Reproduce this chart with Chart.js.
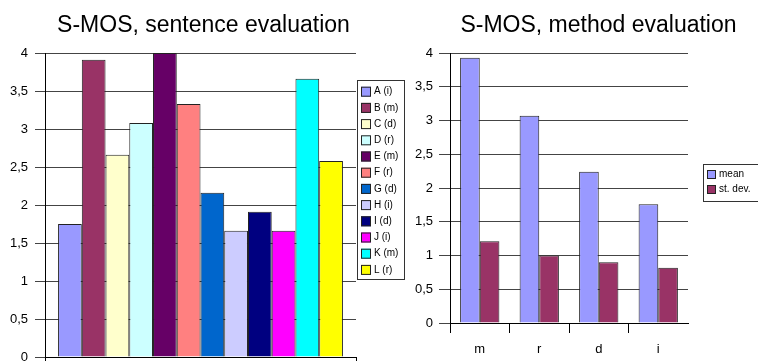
<!DOCTYPE html>
<html>
<head>
<meta charset="utf-8">
<script src="https://cdn.jsdelivr.net/npm/chart.js@4"></script>
<style>
body{margin:0;background:#fff;width:758px;height:361px;overflow:hidden;position:relative;}
canvas{position:absolute;top:0;}
#chart_1{left:0;}
#chart_2{left:410px;}
</style>
</head>
<body>
<canvas id="chart_1" width="410" height="361"></canvas>
<canvas id="chart_2" width="348" height="361"></canvas>
<script>
// sentence evaluation
let sentLabels = ['A (i)','B (m)','C (d)','D (r)','E (m)','F (r)','G (d)','H (i)','I (d)','J (i)','K (m)','L (r)'];
let sentValues = [1.75,3.91,2.66,3.08,4.0,3.33,2.16,1.66,1.91,1.66,3.66,2.58];
let sentColors = ['#9999ff','#993366','#ffffcc','#ccffff','#660066','#ff8080','#0066cc','#ccccff','#000080','#ff00ff','#00ffff','#ffff00'];

// method evaluation
let methods = ['m','r','d','i'];
let meanValues = [3.93,3.07,2.24,1.76];
let devValues = [1.21,1.0,0.9,0.82];

let yTicks = [0,0.5,1,1.5,2,2.5,3,3.5,4];

Chart.defaults.font.family = '"Liberation Sans", Arial, sans-serif';
Chart.defaults.color = '#000';

function commaTick(v){
    return String(v).replace('.',',');
}

// title + boxed legend, drawn by hand like the old excel charts
let boxPlugin = {
    id:'box',
    afterDraw(chart, args, opt){
        let ctx = chart.ctx;
        ctx.save();
        ctx.fillStyle = '#000';
        ctx.font = '23px "Liberation Sans", Arial, sans-serif';
        ctx.textAlign = 'center';
        ctx.textBaseline = 'alphabetic';
        ctx.fillText(opt.title, opt.titleX, 32);

        let b = opt.legend;
        ctx.strokeStyle = '#333';
        ctx.lineWidth = 1;
        ctx.strokeRect(b.x+0.5, b.y+0.5, b.w, b.h);
        ctx.font = '10px "Liberation Sans", Arial, sans-serif';
        ctx.textAlign = 'left';
        ctx.textBaseline = 'middle';
        chart.data.datasets.forEach(function(ds, i){
            let cy = b.first + i*b.step;
            ctx.fillStyle = ds.backgroundColor;
            ctx.fillRect(b.x+4, cy-b.sw/2, b.sw, b.sw);
            ctx.strokeStyle = '#222';
            ctx.strokeRect(b.x+4.5, cy-b.sw/2+0.5, b.sw-1, b.sw-1);
            ctx.fillStyle = '#000';
            ctx.fillText(ds.label, b.x+b.sw+7, cy);
        });
        ctx.restore();
    }
};

var chart1 = new Chart(document.getElementById('chart_1'),{
    type:'bar',
    data: {
        labels: [''],
        datasets: sentLabels.map(function(l, i){
            return {
                label: l,
                data: [sentValues[i]],
                backgroundColor: sentColors[i],
                borderColor: '#222',
                borderWidth: 1,
                categoryPercentage: 0.916,
                barPercentage: 1
            };
        })
    },
    options: {
        responsive: false,
        animation: false,
        layout: { padding: {top:53, right:54, left:0, bottom:0} },
        plugins: {
            legend: { display: false },
            tooltip: { enabled: false },
            box: {
                title: 'S-MOS, sentence evaluation',
                titleX: 203.5,
                legend: {x:357, y:80, w:47, h:199, first:91.7, step:16.2, sw:10}
            }
        },
        scales: {
            x: {
                grid: { offset:true, drawOnChartArea:false, tickLength:4, color:'#000' },
                border: { color:'#000' },
                ticks: { display:false },
                afterFit(s){ s.height = 4; }
            },
            y: {
                min: 0, max: 4,
                afterBuildTicks(s){ s.ticks = yTicks.map(function(v){ return {value:v}; }); },
                ticks: { callback: commaTick, font:{size:13}, padding:7 },
                grid: { color:'#444', tickLength:10 },
                border: { color:'#000' },
                afterFit(s){ s.width = 45; s.paddingTop = 0; s.paddingBottom = 0; }
            }
        }
    },
    plugins: [boxPlugin]
});

var chart2 = new Chart(document.getElementById('chart_2'),{
    type:'bar',
    data: {
        labels: methods,
        datasets: [
            {
                label: 'mean',
                data: meanValues,
                backgroundColor: '#9999ff',
                borderColor: '#222',
                borderWidth: 1,
                categoryPercentage: 0.66,
                barPercentage: 1
            },
            {
                label: 'st. dev.',
                data: devValues,
                backgroundColor: '#993366',
                borderColor: '#222',
                borderWidth: 1,
                categoryPercentage: 0.66,
                barPercentage: 1
            },
        ]
    },
    options: {
        responsive: false,
        animation: false,
        layout: { padding: {top:53, right:70, left:0, bottom:0} },
        plugins: {
            legend: { display: false },
            tooltip: { enabled: false },
            box: {
                title: 'S-MOS, method evaluation',
                titleX: 188.5,
                legend: {x:293, y:164, w:60, h:37, first:174.5, step:15, sw:9}
            }
        },
        scales: {
            x: {
                grid: {
                    offset:true, drawOnChartArea:false, tickLength:10,
                    color: function(c){ return c.tick ? '#000' : 'rgba(0,0,0,0)'; }
                },
                border: { color:'#000' },
                ticks: { font:{size:13}, padding:9 },
                afterFit(s){ s.height = 38; }
            },
            y: {
                min: 0, max: 4,
                afterBuildTicks(s){ s.ticks = yTicks.map(function(v){ return {value:v}; }); },
                ticks: { callback: commaTick, font:{size:13}, padding:6 },
                grid: { color:'#444', tickLength:11 },
                border: { color:'#000' },
                afterFit(s){ s.width = 40; s.paddingTop = 0; s.paddingBottom = 0; }
            }
        }
    },
    plugins: [boxPlugin]
});
</script>
</body>
</html>
